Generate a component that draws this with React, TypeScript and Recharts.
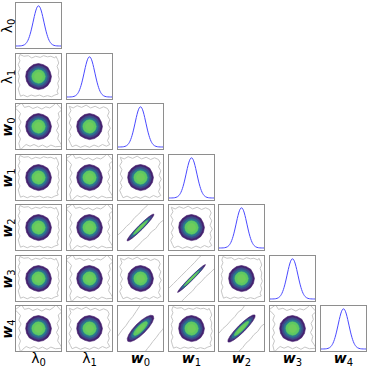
import React from 'react';
import { ScatterChart, Scatter, XAxis, YAxis, LineChart, Line } from 'recharts';

// ---- labels ----
const PARAM_SYMBOLS = ['λ', 'λ', 'w', 'w', 'w', 'w', 'w'];
const PARAM_SUBS = ['0', '1', '0', '1', '2', '3', '4'];

// ---- 1D marginal (diagonal) ----
const DENS_X = [-4, -3.75, -3.5, -3.25, -3, -2.75, -2.5, -2.25, -2, -1.75, -1.5, -1.25, -1, -0.75, -0.5, -0.25, 0,
  0.25, 0.5, 0.75, 1, 1.25, 1.5, 1.75, 2, 2.25, 2.5, 2.75, 3, 3.25, 3.5, 3.75, 4];
const DENSITY = [0.0001, 0.0004, 0.0011, 0.0029, 0.0068, 0.0151, 0.0313, 0.0605, 0.109, 0.183, 0.288, 0.421, 0.575, 0.732, 0.871, 0.966, 1,
  0.966, 0.871, 0.732, 0.575, 0.421, 0.288, 0.183, 0.109, 0.0605, 0.0313, 0.0151, 0.0068, 0.0029, 0.0011, 0.0004, 0.0001];

// ---- 2D contour levels ----
const LEVEL_SCALE = [1, 0.84, 0.68, 0.52, 0.32];
const LEVEL_COLORS = ['#45206e', '#3e4a89', '#2a788e', '#5ec962', '#6fcd5c'];

// outer contour of uncorrelated pairs
const BLOB: [number, number][] = [
  [2.3, 0], [2.08, 0.86], [1.65, 1.65], [0.87, 2.1], [0, 2.31], [-0.88, 2.12], [-1.6, 1.6], [-2.14, 0.89],
  [-2.28, 0], [-2.11, -0.88], [-1.65, -1.65], [-0.86, -2.08], [0, -2.33], [0.89, -2.14], [1.63, -1.63], [2.12, -0.88],
];
// outer contours of correlated pairs
const ELL_W2_W0: [number, number][] = [
  [2.383, 2.383], [2.086, 2.318], [1.47, 1.9], [0.632, 1.194], [-0.304, 0.304], [-1.194, -0.632], [-1.9, -1.47], [-2.318, -2.086],
  [-2.383, -2.383], [-2.086, -2.318], [-1.47, -1.9], [-0.632, -1.194], [0.304, -0.304], [1.194, 0.632], [1.9, 1.47], [2.318, 2.086],
];
const ELL_W3_W1: [number, number][] = [
  [2.475, 2.475], [2.206, 2.368], [1.6, 1.9], [0.752, 1.144], [-0.212, 0.212], [-1.144, -0.752], [-1.9, -1.6], [-2.368, -2.206],
  [-2.475, -2.475], [-2.206, -2.368], [-1.6, -1.9], [-0.752, -1.144], [0.212, -0.212], [1.144, 0.752], [1.9, 1.6], [2.368, 2.206],
];
const ELL_W4_W0: [number, number][] = [
  [2.263, 2.263], [1.82, 2.362], [1.1, 2.1], [0.214, 1.52], [-0.707, 0.707], [-1.52, -0.214], [-2.1, -1.1], [-2.362, -1.82],
  [-2.263, -2.263], [-1.82, -2.362], [-1.1, -2.1], [-0.214, -1.52], [0.707, -0.707], [1.52, 0.214], [2.1, 1.1], [2.362, 1.82],
];
const ELL_W4_W2: [number, number][] = [
  [2.404, 2.404], [2.037, 2.405], [1.36, 2.04], [0.477, 1.365], [-0.481, 0.481], [-1.365, -0.477], [-2.04, -1.36], [-2.405, -2.037],
  [-2.404, -2.404], [-2.037, -2.405], [-1.36, -2.04], [-0.477, -1.365], [0.481, -0.481], [1.365, 0.477], [2.04, 1.36], [2.405, 2.037],
];

// low-density outline (light grey)
const GRAY_A: [number, number][] = [
  [-3.3, 3.9], [-2.6, 3.6], [-1.8, 3.7], [-1.2, 3.3], [-0.5, 3.6], [0.3, 3.4], [0.9, 3.7], [1.6, 3.5], [2.2, 3.6], [2.9, 3.3],
  [3.1, 3.6], [3.4, 3.0], [3.6, 2.4], [3.3, 1.8], [3.6, 1.0], [3.5, 0.2], [3.7, -0.5], [3.4, -1.2], [3.6, -1.9], [3.3, -2.6],
  [3.5, -3.1], [2.9, -3.3], [2.3, -3.6], [1.6, -3.4], [0.9, -3.6], [0.2, -3.3], [-0.6, -3.5], [-1.3, -3.3], [-2.0, -3.6],
  [-2.7, -3.3], [-3.2, -3.5], [-3.4, -2.9], [-3.6, -2.2], [-3.3, -1.5], [-3.6, -0.8], [-3.4, 0], [-3.6, 0.7], [-3.3, 1.4],
  [-3.6, 2.1], [-3.3, 2.8], [-3.5, 3.3],
];
const GRAY_B: [number, number][] = [
  [-3.0, 4.2], [-2.5, 3.4], [-1.7, 3.6], [-1.0, 3.2], [-0.2, 3.5], [0.6, 3.1], [1.3, 3.5], [2.0, 3.3], [2.6, 3.7], [3.1, 4.2],
  [4.2, 3.0], [3.5, 2.4], [3.7, 1.6], [3.3, 0.9], [3.6, 0.1], [3.2, -0.7], [3.6, -1.4], [3.4, -2.2], [3.8, -2.8], [4.2, -3.5],
  [3.0, -3.6], [2.2, -3.3], [1.5, -3.7], [0.7, -3.3], [0.0, -3.6], [-0.8, -3.2], [-1.5, -3.5], [-2.2, -3.2], [-2.8, -3.7],
  [-3.2, -4.2], [-3.5, -3.0], [-3.2, -2.2], [-3.6, -1.5], [-3.2, -0.8], [-3.5, 0.0], [-3.1, 0.8], [-3.5, 1.5], [-3.2, 2.3],
  [-3.7, 2.9], [-4.2, 3.3],
];
const GRAY_C: [number, number][] = [
  [-3.6, 3.6], [-2.9, 3.3], [-2.2, 3.7], [-1.4, 3.4], [-0.6, 3.8], [0.2, 3.3], [1.0, 3.6], [1.8, 3.2], [2.5, 3.5], [3.2, 3.2],
  [3.5, 2.6], [3.2, 1.9], [3.6, 1.2], [3.3, 0.4], [3.7, -0.3], [3.3, -1.0], [3.5, -1.8], [3.2, -2.5], [3.6, -3.2], [3.0, -3.5],
  [2.3, -3.2], [1.6, -3.6], [0.8, -3.3], [0.0, -3.7], [-0.8, -3.4], [-1.6, -3.7], [-2.4, -3.3], [-3.1, -3.6], [-3.4, -3.0],
  [-3.7, -2.3], [-3.3, -1.6], [-3.6, -0.9], [-3.2, -0.1], [-3.6, 0.6], [-3.3, 1.4], [-3.7, 2.1], [-3.3, 2.8],
];
const BAND_W2_W0: [number, number][] = [
  [-5, -2.3], [-4, -1.3], [-3.3, -0.7], [-2.5, 0.2], [-1.8, 0.8], [-1.0, 1.8], [-0.3, 2.4], [0.5, 3.3], [1.2, 3.9], [1.8, 4.6],
  [2.4, 5.2], [5.5, 5.5], [5.2, 2.5], [4.2, 1.4], [3.4, 0.8], [2.7, -0.2], [1.9, -0.8], [1.2, -1.7], [0.4, -2.3], [-0.3, -3.1],
  [-1.0, -3.7], [-1.7, -4.6], [-2.4, -5.2], [-5.5, -5.5],
];
const BAND_W3_W1: [number, number][] = [
  [-5, -2.6], [-4, -1.7], [-3.2, -0.9], [-2.5, -0.2], [-1.7, 0.6], [-0.9, 1.4], [-0.2, 2.1], [0.6, 2.9], [1.3, 3.7], [2.0, 4.3],
  [2.6, 5.0], [5.5, 5.5], [5.0, 2.8], [4.1, 1.8], [3.3, 1.0], [2.5, 0.3], [1.7, -0.6], [0.9, -1.3], [0.2, -2.2], [-0.6, -2.9],
  [-1.3, -3.6], [-2.1, -4.4], [-2.8, -5.0], [-5.5, -5.5],
];
const BAND_W4_W0: [number, number][] = [
  [-5, -2.4], [-4, -1.3], [-3.3, -0.3], [-2.6, 0.5], [-2.0, 1.4], [-1.4, 2.1], [-0.8, 3.0], [-0.2, 3.9], [0.3, 4.6], [0.8, 5.5],
  [5.5, 5.5], [5.5, 1.0], [4.5, 0.6], [3.9, -0.2], [3.3, -0.9], [2.8, -1.6], [2.2, -2.3], [1.7, -3.0], [1.2, -3.6], [0.7, -4.3],
  [0.1, -5.2], [-5.5, -5.5],
];
const BAND_W4_W2: [number, number][] = [
  [-5, -1.9], [-4, -0.8], [-3.3, 0.0], [-2.6, 0.6], [-1.9, 1.4], [-1.2, 2.1], [-0.6, 2.9], [0.1, 3.4], [0.7, 4.3], [1.3, 5.2],
  [5.5, 5.5], [5.5, 1.9], [4.3, 1.0], [3.5, 0.4], [2.9, -0.5], [2.2, -1.1], [1.5, -2.0], [0.8, -2.6], [0.2, -3.4], [-0.5, -4.1],
  [-1.2, -5.0], [-5.5, -5.5],
];

const CORRELATED: Record<string, { shape: [number, number][]; gray: [number, number][] }> = {
  '4-2': { shape: ELL_W2_W0, gray: BAND_W2_W0 },
  '5-3': { shape: ELL_W3_W1, gray: BAND_W3_W1 },
  '6-2': { shape: ELL_W4_W0, gray: BAND_W4_W0 },
  '6-4': { shape: ELL_W4_W2, gray: BAND_W4_W2 },
};
const GRAY_VARIANTS = [GRAY_A, GRAY_B, GRAY_C];

// ---- layout ----
const COL_LEFT = [15, 66, 117, 168, 218, 269, 320];
const ROW_TOP = [2, 53, 103, 154, 204, 255, 305];
const SIZE = 47;
const INNER = SIZE - 2;
const NO_MARGIN = { top: 0, right: 0, bottom: 0, left: 0 };
const FONT = "'DejaVu Sans', sans-serif";

const NoShape = () => null;

const boxStyle = (left: number, top: number): React.CSSProperties => ({
  position: 'absolute',
  left,
  top,
  width: SIZE,
  height: SIZE,
  boxSizing: 'border-box',
  border: '1px solid #8e8e8e',
  overflow: 'hidden',
  background: '#fff',
});

function DiagPanel({ left, top }: { left: number; top: number }) {
  const data = DENS_X.map((x, i) => ({ x, d: DENSITY[i] }));
  return (
    <div style={boxStyle(left, top)}>
      <LineChart width={INNER} height={INNER} data={data} margin={NO_MARGIN}>
        <XAxis type="number" dataKey="x" domain={[-4, 4]} allowDataOverflow hide />
        <YAxis type="number" domain={[-0.05, 1.07]} allowDataOverflow hide />
        <Line dataKey="d" type="monotone" stroke="#4a4aff" strokeWidth={1} dot={false} isAnimationActive={false} />
      </LineChart>
    </div>
  );
}

function ContourPanel({ left, top, shape, gray }: { left: number; top: number; shape: [number, number][]; gray: [number, number][] }) {
  const grayData = gray.map(([x, y]) => ({ x, y }));
  return (
    <div style={boxStyle(left, top)}>
      <ScatterChart width={INNER} height={INNER} margin={NO_MARGIN}>
        <XAxis type="number" dataKey="x" domain={[-4, 4]} allowDataOverflow hide />
        <YAxis type="number" dataKey="y" domain={[-4, 4]} allowDataOverflow hide />
        <Scatter
          data={grayData}
          isAnimationActive={false}
          line={{ stroke: '#c6c6c6', strokeWidth: 1, fill: 'none' }}
          lineJointType="linearClosed"
          shape={NoShape}
        />
        {LEVEL_SCALE.map((s, k) => (
          <Scatter
            key={k}
            data={shape.map(([x, y]) => ({ x: x * s, y: y * s }))}
            isAnimationActive={false}
            line={{ stroke: LEVEL_COLORS[k], strokeWidth: 0.6, fill: LEVEL_COLORS[k] }}
            lineJointType="linearClosed"
            shape={NoShape}
          />
        ))}
      </ScatterChart>
    </div>
  );
}

function Label({ i }: { i: number }) {
  const isW = PARAM_SYMBOLS[i] === 'w';
  return (
    <span style={{ fontFamily: FONT, fontSize: 14, whiteSpace: 'nowrap' }}>
      <span style={{ fontStyle: isW ? 'italic' : 'normal', fontWeight: isW ? 'bold' : 'normal' }}>{PARAM_SYMBOLS[i]}</span>
      <span style={{ fontSize: 10, position: 'relative', top: 3 }}>{PARAM_SUBS[i]}</span>
    </span>
  );
}

export default function App() {
  const panels: React.ReactNode[] = [];
  let grayIdx = 0;
  for (let r = 0; r < 7; r++) {
    for (let c = 0; c <= r; c++) {
      const left = COL_LEFT[c];
      const top = ROW_TOP[r];
      if (r === c) {
        panels.push(<DiagPanel key={`${r}-${c}`} left={left} top={top} />);
      } else {
        const corr = CORRELATED[`${r}-${c}`];
        if (corr) {
          panels.push(<ContourPanel key={`${r}-${c}`} left={left} top={top} shape={corr.shape} gray={corr.gray} />);
        } else {
          const g = GRAY_VARIANTS[grayIdx % GRAY_VARIANTS.length];
          grayIdx++;
          panels.push(<ContourPanel key={`${r}-${c}`} left={left} top={top} shape={BLOB} gray={g} />);
        }
      }
    }
  }
  return (
    <div style={{ position: 'absolute', left: 0, top: 0, width: 369, height: 369, background: '#fff', overflow: 'hidden' }}>
      {panels}
      {ROW_TOP.map((t, i) => (
        <div
          key={`yl${i}`}
          style={{
            position: 'absolute',
            left: 7 - 20,
            top: t + SIZE / 2 - 9,
            width: 40,
            height: 18,
            lineHeight: '18px',
            textAlign: 'center',
            transform: 'rotate(-90deg)',
          }}
        >
          <Label i={i} />
        </div>
      ))}
      {COL_LEFT.map((l, i) => (
        <div
          key={`xl${i}`}
          style={{ position: 'absolute', left: l + SIZE / 2 - 20, top: 349, width: 40, height: 18, lineHeight: '18px', textAlign: 'center' }}
        >
          <Label i={i} />
        </div>
      ))}
    </div>
  );
}
